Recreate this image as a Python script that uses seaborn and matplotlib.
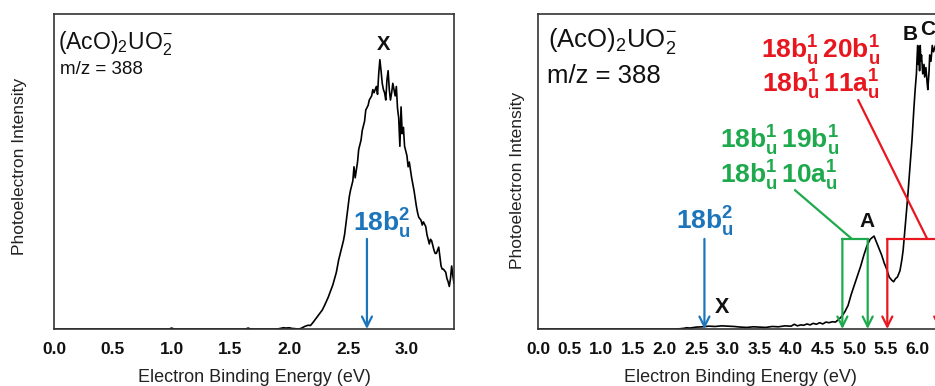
import matplotlib
matplotlib.use("Agg")
import matplotlib.pyplot as plt
import seaborn as sns
import pandas as pd
from matplotlib.ticker import MultipleLocator

# ---------------- data ----------------
left_ebe = [0.0, 0.5, 0.98, 1.0, 1.02, 1.5, 1.63, 1.65, 1.67, 1.9, 1.95, 1.97, 2.0, 2.02, 2.05, 2.08,
            2.1, 2.13, 2.16, 2.18, 2.2, 2.22, 2.25, 2.28, 2.30, 2.33, 2.35, 2.37, 2.40, 2.42, 2.44, 2.46,
            2.47, 2.49, 2.51, 2.52, 2.54, 2.55, 2.56, 2.58, 2.59, 2.61, 2.62, 2.64, 2.65, 2.67, 2.68, 2.70,
            2.71, 2.72, 2.74, 2.75, 2.76, 2.77, 2.78, 2.79, 2.80, 2.81, 2.82, 2.83, 2.84, 2.85, 2.86, 2.87,
            2.88, 2.89, 2.90, 2.91, 2.92, 2.93, 2.94, 2.95, 2.96, 2.97, 2.98, 3.00, 3.01, 3.02, 3.04, 3.05,
            3.06, 3.08, 3.09, 3.10, 3.12, 3.13, 3.14, 3.16, 3.17, 3.19, 3.20, 3.21, 3.23, 3.24, 3.25, 3.27,
            3.28, 3.29, 3.30, 3.31, 3.33, 3.34, 3.35, 3.36, 3.37, 3.38, 3.39, 3.40]
left_int = [0, 0, 0, 0.003, 0, 0, 0, 0.003, 0, 0, 0.004, 0.003, 0.004, 0.002, 0.001, 0.0,
            0.002, 0.008, 0.012, 0.011, 0.02, 0.03, 0.045, 0.06, 0.075, 0.10, 0.12, 0.14, 0.18, 0.22, 0.25, 0.28,
            0.30, 0.36, 0.42, 0.44, 0.47, 0.515, 0.48, 0.53, 0.57, 0.60, 0.63, 0.66, 0.695, 0.71, 0.727, 0.74,
            0.76, 0.75, 0.77, 0.745, 0.81, 0.855, 0.82, 0.78, 0.76, 0.75, 0.727, 0.79, 0.82, 0.76, 0.727, 0.75,
            0.78, 0.76, 0.74, 0.77, 0.70, 0.67, 0.58, 0.705, 0.62, 0.64, 0.58, 0.55, 0.515, 0.53, 0.48, 0.46,
            0.44, 0.39, 0.37, 0.355, 0.345, 0.33, 0.34, 0.325, 0.30, 0.27, 0.285, 0.28, 0.25, 0.24, 0.24, 0.26,
            0.23, 0.20, 0.19, 0.19, 0.18, 0.16, 0.15, 0.135, 0.16, 0.20, 0.17, 0.145]

right_ebe = [0.0, 1.0, 2.0, 2.2, 2.3, 2.35, 2.4, 2.5, 2.6, 2.7, 2.8, 2.9, 3.0, 3.1, 3.2, 3.3, 3.4, 3.5,
             3.6, 3.7, 3.8, 3.9, 4.0, 4.05, 4.1, 4.15, 4.2, 4.25, 4.3, 4.35, 4.4, 4.45, 4.5, 4.55, 4.6, 4.65,
             4.7, 4.75, 4.8, 4.85, 4.9, 4.95, 5.0, 5.05, 5.1, 5.15, 5.2, 5.25, 5.28, 5.31, 5.34, 5.37, 5.4,
             5.43, 5.47, 5.51, 5.55, 5.59, 5.62, 5.65, 5.68, 5.72, 5.75, 5.77, 5.8, 5.83, 5.85, 5.88, 5.91,
             5.94, 5.96, 5.98, 5.99, 6.0, 6.01, 6.02, 6.03, 6.04, 6.05, 6.06, 6.08, 6.1, 6.11, 6.13, 6.15,
             6.16, 6.18, 6.19, 6.21, 6.23, 6.25, 6.28, 6.3, 6.33, 6.36, 6.4]
right_int = [0, 0, 0, 0.0, 0.002, 0.004, 0.003, 0.006, 0.007, 0.009, 0.008, 0.01, 0.009, 0.008, 0.006,
             0.005, 0.007, 0.006, 0.005, 0.008, 0.007, 0.01, 0.009, 0.015, 0.01, 0.013, 0.012, 0.016, 0.013,
             0.018, 0.015, 0.02, 0.016, 0.022, 0.02, 0.023, 0.022, 0.03, 0.04, 0.055, 0.075, 0.11, 0.14, 0.17,
             0.20, 0.235, 0.265, 0.285, 0.29, 0.295, 0.28, 0.265, 0.25, 0.235, 0.21, 0.19, 0.165, 0.155, 0.15,
             0.16, 0.165, 0.185, 0.22, 0.25, 0.32, 0.39, 0.44, 0.52, 0.60, 0.70, 0.76, 0.81, 0.86, 0.90, 0.84,
             0.88, 0.82, 0.90, 0.85, 0.87, 0.81, 0.84, 0.80, 0.83, 0.78, 0.76, 0.82, 0.87, 0.85, 0.90, 0.88,
             0.90, 0.87, 0.89, 0.86, 0.88]

left_ticks = [0.0, 0.5, 1.0, 1.5, 2.0, 2.5, 3.0]
right_ticks = [0.0, 0.5, 1.0, 1.5, 2.0, 2.5, 3.0, 3.5, 4.0, 4.5, 5.0, 5.5, 6.0]

blue_left = 2.66
blue_right = 2.63
green_arrows = [4.81, 5.21]
red_arrows = [5.52, 6.34, 6.78]

# ---------------- style ----------------
sns.set_style("white")
plt.rcParams['font.family'] = ['Liberation Sans', 'DejaVu Sans']
plt.rcParams['mathtext.fontset'] = 'custom'
plt.rcParams['mathtext.rm'] = 'Liberation Sans'
plt.rcParams['mathtext.it'] = 'Liberation Sans:italic'
plt.rcParams['mathtext.bf'] = 'Liberation Sans:bold'

BLUE = "#1c75bb"
GREEN = "#1ea94d"
RED = "#e8161e"
SPINE = "#333333"
TXT = "#111111"

fig = plt.figure(figsize=(9.35, 3.86), dpi=100)
axL = fig.add_axes([54/935, 57/386, 400/935, 315/386])
axR = fig.add_axes([538/935, 57/386, 405/935, 315/386])

dfL = pd.DataFrame({"ebe": left_ebe, "int": left_int})
dfR = pd.DataFrame({"ebe": right_ebe, "int": right_int})
sns.lineplot(data=dfL, x="ebe", y="int", ax=axL, color="black", lw=1.2)
sns.lineplot(data=dfR, x="ebe", y="int", ax=axR, color="black", lw=1.2)

for ax, xmax, ticks in [(axL, 3.4, left_ticks), (axR, 6.4, right_ticks)]:
    ax.set_xlim(0, xmax)
    ax.set_ylim(0, 1)
    ax.set_yticks([])
    ax.set_xticks(ticks)
    ax.set_xticklabels([f"{t:.1f}" for t in ticks], fontweight="bold", fontsize=12.5, color=TXT)
    ax.xaxis.set_minor_locator(MultipleLocator(0.1))
    ax.tick_params(axis="x", which="major", direction="out", length=6, width=1.2, color=SPINE, pad=3)
    ax.tick_params(axis="x", which="minor", direction="out", length=3.5, width=1.0, color=SPINE)
    for s in ax.spines.values():
        s.set_color(SPINE)
        s.set_linewidth(1.2)
    ax.set_xlabel("Electron Binding Energy (eV)", fontsize=13, color="#222222")
    ax.set_ylabel("Photoelectron Intensity", fontsize=12.5, color="#222222")

axL.xaxis.set_label_coords(0.5, -0.128)
axR.xaxis.set_label_coords(0.501, -0.128)
axL.yaxis.set_label_coords(-0.068, 0.517)
axR.yaxis.set_label_coords(-0.032, 0.473)

# ---------------- left annotations ----------------
axL.text(0.01, 0.886, r"(AcO)$_2$UO$_2^{-}$", transform=axL.transAxes, fontsize=16.5, va="baseline", ha="left", color=TXT)
axL.text(0.015, 0.81, "m/z = 388", transform=axL.transAxes, fontsize=13.5, va="baseline", ha="left", color=TXT)
axL.text(2.80, 0.886, "X", fontsize=14.5, fontweight="bold", ha="center", va="baseline", color=TXT)
axL.text(2.79, 0.308, r"$\mathbf{18b_u^2}$", fontsize=19, color=BLUE, ha="center", va="baseline")
arrow_kw = dict(arrowstyle="->,head_length=0.6,head_width=0.3", lw=1.6, shrinkA=0, shrinkB=0, mutation_scale=12)
axL.annotate("", xy=(blue_left, 0.0), xytext=(blue_left, 0.286), arrowprops=dict(color=BLUE, **arrow_kw))

# ---------------- right annotations ----------------
axR.text(0.025, 0.896, r"(AcO)$_2$UO$_2^{-}$", transform=axR.transAxes, fontsize=18.5, va="baseline", ha="left", color=TXT)
axR.text(0.022, 0.78, "m/z = 388", transform=axR.transAxes, fontsize=18.5, va="baseline", ha="left", color=TXT)
axR.text(2.9, 0.05, "X", fontsize=15.5, fontweight="bold", ha="center", va="baseline", color=TXT)
axR.text(5.2, 0.325, "A", fontsize=15, fontweight="bold", ha="center", va="baseline", color=TXT)
axR.text(5.88, 0.917, "B", fontsize=15, fontweight="bold", ha="center", va="baseline", clip_on=False, color=TXT)
axR.text(6.16, 0.933, "C", fontsize=15, fontweight="bold", ha="center", va="baseline", clip_on=False, color=TXT)

axR.text(2.64, 0.314, r"$\mathbf{18b_u^2}$", fontsize=19, color=BLUE, ha="center", va="baseline")
axR.annotate("", xy=(blue_right, 0.0), xytext=(blue_right, 0.286), arrowprops=dict(color=BLUE, **arrow_kw))

axR.text(3.81, 0.574, r"$\mathbf{18b_u^1\,19b_u^1}$", fontsize=19, color=GREEN, ha="center", va="baseline")
axR.text(3.81, 0.463, r"$\mathbf{18b_u^1\,10a_u^1}$", fontsize=19, color=GREEN, ha="center", va="baseline")
axR.plot([4.06, 4.96], [0.441, 0.286], color=GREEN, lw=1.6)
axR.plot([green_arrows[0], green_arrows[-1]], [0.286, 0.286], color=GREEN, lw=1.6)
for gx in green_arrows:
    axR.annotate("", xy=(gx, 0.0), xytext=(gx, 0.286), arrowprops=dict(color=GREEN, **arrow_kw))

axR.text(4.47, 0.86, r"$\mathbf{18b_u^1\,20b_u^1}$", fontsize=19, color=RED, ha="center", va="baseline")
axR.text(4.47, 0.749, r"$\mathbf{18b_u^1\,11a_u^1}$", fontsize=19, color=RED, ha="center", va="baseline")
axR.plot([5.06, 6.15], [0.727, 0.286], color=RED, lw=1.6, clip_on=False)
axR.plot([red_arrows[0], red_arrows[-1]], [0.286, 0.286], color=RED, lw=1.6, clip_on=False)
for rx in red_arrows:
    axR.annotate("", xy=(rx, 0.0), xytext=(rx, 0.286), arrowprops=dict(color=RED, **arrow_kw),
                 annotation_clip=False)

fig.savefig("out.png", dpi=100)
